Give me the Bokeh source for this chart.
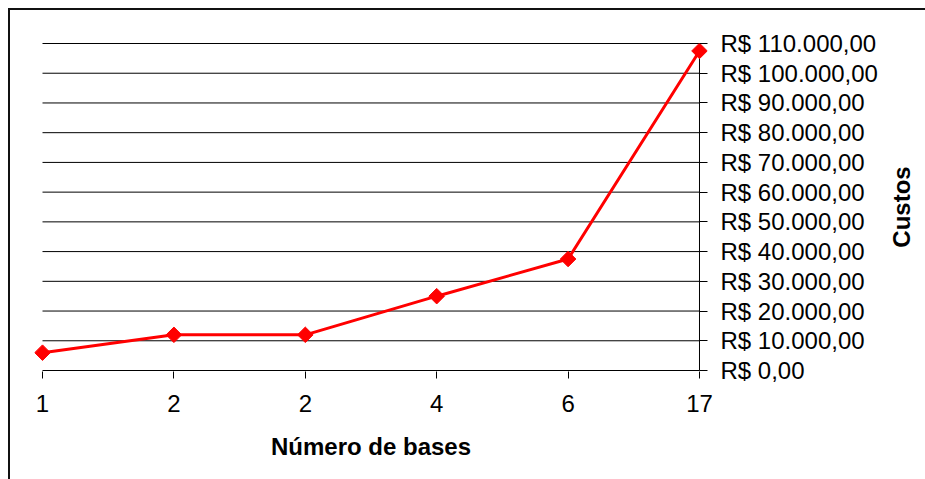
import math
from bokeh.plotting import figure
from bokeh.layouts import row
from bokeh.models import FixedTicker, Label
from bokeh.embed import file_html
from bokeh.resources import INLINE

# Data
categories = ["1", "2", "2", "4", "6", "17"]
custos = [6000, 12000, 12000, 25000, 37500, 107500]
y_ticks = [0, 10000, 20000, 30000, 40000, 50000, 60000, 70000, 80000, 90000, 100000, 110000]
x_title = "Número de bases"
y_title = "Custos"


def brl(v):
    s = f"{v:,.2f}".replace(",", "X").replace(".", ",").replace("X", ".")
    return "R$ " + s


y_labels = {t: brl(t) for t in y_ticks}
x_idx = list(range(len(categories)))

FONT = "Liberation Sans"
FS = "24px"

x_last = x_idx[-1]
xpad = x_last * 8 / 656.0
ypad = y_ticks[-1] / 327.0

p = figure(width=887, height=469, output_backend="svg", toolbar_location=None,
           x_range=(x_idx[0] - xpad, x_last + xpad),
           y_range=(y_ticks[0] - ypad, y_ticks[-1] + ypad),
           y_axis_location="right",
           min_border_left=24, min_border_top=32, min_border_right=190, min_border_bottom=108)
p.outline_line_color = None
p.background_fill_color = "white"
p.border_fill_color = "white"

# grid drawn as segments spanning the category extent
p.xgrid.visible = False
p.ygrid.visible = False
p.segment(x0=[x_idx[0]] * len(y_ticks), x1=[x_last] * len(y_ticks), y0=y_ticks, y1=y_ticks,
          line_color="#000000", line_width=1)
# right axis line at last category
p.segment(x0=[x_last], x1=[x_last], y0=[y_ticks[0]], y1=[y_ticks[-1]],
          line_color="#000000", line_width=1)

# x axis
xa = p.xaxis[0]
xa.ticker = FixedTicker(ticks=x_idx)
xa.major_label_overrides = {i: c for i, c in zip(x_idx, categories)}
xa.minor_tick_line_color = None
xa.major_tick_in = 0
xa.major_tick_out = 7
xa.axis_line_color = None
xa.major_tick_line_color = "#000000"
xa.major_label_text_font = FONT
xa.major_label_text_font_size = FS
xa.major_label_text_color = "#000000"
xa.major_label_standoff = 16
xa.axis_label = x_title
xa.axis_label_text_font = FONT
xa.axis_label_text_font_size = FS
xa.axis_label_text_font_style = "bold"
xa.axis_label_text_color = "#000000"
xa.axis_label_standoff = 18

# y axis (right)
ya = p.yaxis[0]
ya.ticker = FixedTicker(ticks=y_ticks)
ya.major_label_overrides = y_labels
ya.minor_tick_line_color = None
ya.major_tick_in = 8
ya.major_tick_out = 0
ya.axis_line_color = None
ya.major_tick_line_color = "#000000"
ya.major_label_text_font = FONT
ya.major_label_text_font_size = FS
ya.major_label_text_color = "#000000"
ya.major_label_standoff = 13

p.line(x_idx, custos, line_color="#FF0000", line_width=3)
p.scatter(x_idx, custos, marker="square", angle=math.pi / 4, size=11,
          fill_color="#FF0000", line_color="#FF0000")

# side panel holding the vertical y-axis title, aligned with the main frame;
# it is transparent and slightly overlaps the empty end of the main figure
side = figure(width=40, height=469, output_backend="svg", toolbar_location=None,
              x_range=(0, 40), y_range=(0, 1),
              min_border_left=0, min_border_right=0, min_border_top=32, min_border_bottom=108)
side.axis.visible = False
side.grid.visible = False
side.outline_line_color = None
side.background_fill_color = None
side.border_fill_color = None
side.styles = {"margin-left": "-12px"}
side.add_layout(Label(x=16, y=0.5, text=y_title, angle=math.pi / 2,
                      text_align="center", text_baseline="middle",
                      text_font=FONT, text_font_size=FS, text_font_style="bold",
                      text_color="#000000"))

layout = row(p, side)
layout.styles = {"border-left": "2px solid #111", "border-top": "2px solid #111",
                 "margin-left": "8px", "margin-top": "8px"}

open("out.html", "w").write(file_html(layout, INLINE))
